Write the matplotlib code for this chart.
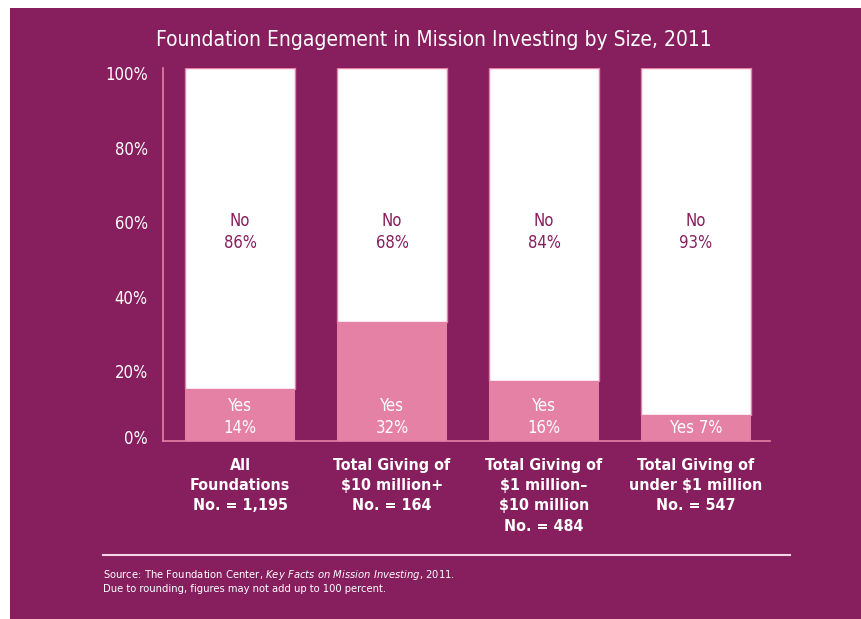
import matplotlib
matplotlib.use("Agg")
import matplotlib.pyplot as plt
import matplotlib.transforms as mtransforms
from matplotlib.patches import Rectangle
from matplotlib.lines import Line2D

plt.rcParams['font.family'] = ['DejaVu Sans']
plt.rcParams['font.stretch'] = 'condensed'

categories = ["All\nFoundations\nNo. = 1,195",
              "Total Giving of\n$10 million+\nNo. = 164",
              "Total Giving of\n$1 million\u2013\n$10 million\nNo. = 484",
              "Total Giving of\nunder $1 million\nNo. = 547"]
yes_vals = [14, 32, 16, 7]
no_vals = [86, 68, 84, 93]
yticks = [0, 20, 40, 60, 80, 100]

purple = '#871E5E'
pink = '#E681A6'

fig = plt.figure(figsize=(8.62, 6.19), dpi=100, facecolor='white')
fig.patches.append(Rectangle((10 / 862, 0), 1, 1 - 8 / 619, transform=fig.transFigure,
                             facecolor=purple, edgecolor='none', zorder=-1))

ax = fig.add_axes([163 / 862, 1 - 441 / 619, 607 / 862, 373 / 619])
ax.set_facecolor('none')

x = list(range(len(categories)))
w = 0.724
ax.bar(x, yes_vals, width=w, color=pink, edgecolor='none', zorder=2)
ax.bar(x, no_vals, width=w, bottom=yes_vals, color='white', edgecolor=pink, linewidth=1, zorder=2)

for i in x:
    ax.text(i, 56, "No\n%d%%" % no_vals[i], ha='center', va='center',
            color=purple, fontsize=12, linespacing=1.3)
    if yes_vals[i] >= 10:
        ax.text(i, 6.4, "Yes\n%d%%" % yes_vals[i], ha='center', va='center',
                color='white', fontsize=12, linespacing=1.3)
    else:
        ax.text(i, 3.4, "Yes %d%%" % yes_vals[i], ha='center', va='center',
                color='white', fontsize=12)

ax.set_xlim(-0.507, 3.487)
ax.set_ylim(0, 100)
ax.set_yticks(yticks)
ax.set_yticklabels(["%d%%" % t for t in yticks])
ax.tick_params(axis='y', length=0, pad=11, labelcolor='white', labelsize=12)
# labels in the original sit a little below their gridline (0% a little above)
for t, lbl in zip(yticks, ax.get_yticklabels()):
    dy = 4 / 100 if t == 0 else -5 / 100
    lbl.set_transform(lbl.get_transform() + mtransforms.ScaledTranslation(0, dy, fig.dpi_scale_trans))
ax.set_xticks(x)
ax.set_xticklabels(categories, color='white', fontsize=11.5, fontweight='bold', va='top')
for lbl in ax.get_xticklabels():
    lbl.set_linespacing(1.45)
ax.tick_params(axis='x', length=0, pad=12)
for s in ['top', 'right']:
    ax.spines[s].set_visible(False)
for s in ['left', 'bottom']:
    ax.spines[s].set_color(pink)
    ax.spines[s].set_linewidth(1.2)

fig.text(434 / 862, 1 - 40 / 619, "Foundation Engagement in Mission Investing by Size, 2011",
         ha='center', va='center', color='white', fontsize=15)

fig.add_artist(Line2D([103 / 862, 790 / 862], [1 - 555 / 619] * 2, transform=fig.transFigure,
                      color='#F2D6E4', linewidth=1.5))
fig.text(103 / 862, 1 - 575 / 619,
         "Source: The Foundation Center, $\\it{Key\\ Facts\\ on\\ Mission\\ Investing}$, 2011.",
         ha='left', va='center', color='white', fontsize=8)
fig.text(103 / 862, 1 - 589 / 619, "Due to rounding, figures may not add up to 100 percent.",
         ha='left', va='center', color='white', fontsize=8)

fig.savefig("out.png", dpi=100, facecolor=fig.get_facecolor())
